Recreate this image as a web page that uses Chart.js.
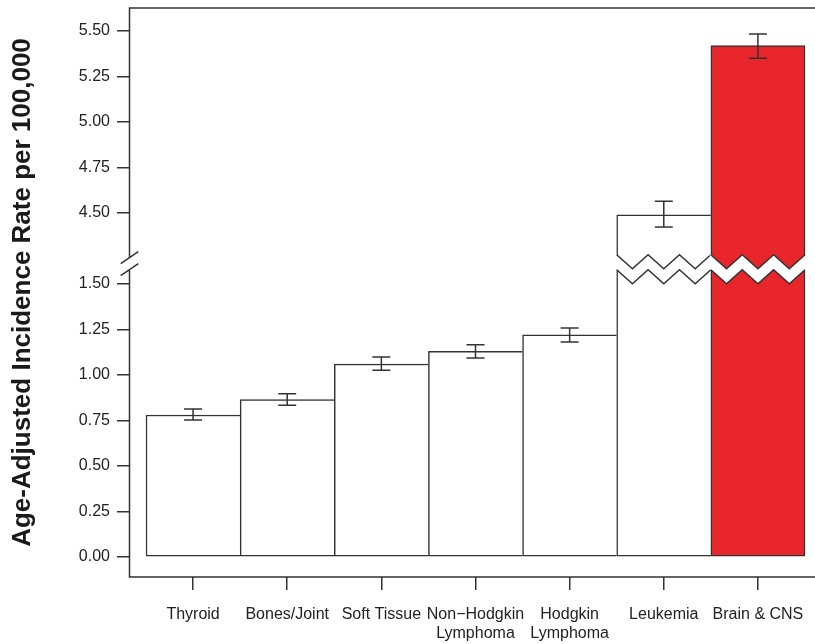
<!DOCTYPE html>
<html><head><meta charset="utf-8">
<script src="https://cdn.jsdelivr.net/npm/chart.js@4.4.1/dist/chart.umd.min.js"></script>
<style>
html,body{margin:0;padding:0;overflow:hidden;background:#fff;width:815px;height:644px}
canvas{position:absolute;left:0;top:0}
</style></head>
<body><canvas id="c" width="830" height="644"></canvas>
<script>
// ---- data ----
const categories = ['Thyroid','Bones/Joint','Soft Tissue','Non−Hodgkin Lymphoma','Hodgkin Lymphoma','Leukemia','Brain & CNS'];
const xTickLabels = [['Thyroid'],['Bones/Joint'],['Soft Tissue'],['Non−Hodgkin','Lymphoma'],['Hodgkin','Lymphoma'],['Leukemia'],['Brain & CNS']];
const rates  = [0.78, 0.865, 1.06, 1.13, 1.22, 4.49, 5.42];
const ciLow  = [0.752, 0.833, 1.026, 1.093, 1.181, 4.423, 5.350];
const ciHigh = [0.813, 0.897, 1.099, 1.166, 1.258, 4.564, 5.483];
const yTickValues = [0, 0.25, 0.5, 0.75, 1.0, 1.25, 1.5, 4.5, 4.75, 5.0, 5.25, 5.5];
const highlighted = 'Brain & CNS';
const yTitle = 'Age-Adjusted Incidence Rate per 100,000';

// ---- axis break settings ----
const BREAK_LOW = 1.6;     // last value shown below the break
const BREAK_SHIFT = 2.61;  // values above the break are shifted down by this much

const FONT = "'Liberation Sans', Arial, sans-serif";
const INK = '#333';
const RED = '#E8252A';

function fold(v){
  if (v <= BREAK_LOW) return v;
  if (v >= BREAK_LOW + BREAK_SHIFT) return v - BREAK_SHIFT;
  return BREAK_LOW;
}

class BrokenLinearScale extends Chart.LinearScale {
  determineDataLimits(){
    this.min = fold(this.options.min);
    this.max = fold(this.options.max);
  }
  buildTicks(){
    return yTickValues.map(v => ({value: v}));
  }
  getPixelForValue(v){
    if (v === null || v === undefined) return NaN;
    return super.getPixelForValue(fold(v));
  }
  getValueForPixel(p){
    const v = super.getValueForPixel(p);
    return v > BREAK_LOW ? v + BREAK_SHIFT : v;
  }
}
BrokenLinearScale.id = 'brokenLinear';
BrokenLinearScale.defaults = {};
Chart.register(BrokenLinearScale);

const decorations = {
  id: 'decorations',
  afterDatasetsDraw(chart){
    const ctx = chart.ctx;
    const ca = chart.chartArea;
    const ys = chart.scales.y;
    const meta = chart.getDatasetMeta(0);
    const yb = ys.getPixelForValue(BREAK_LOW);
    ctx.save();
    // zigzag break across bars that exceed the break
    const broken = [];
    meta.data.forEach((bar, i) => { if (rates[i] >= BREAK_LOW + BREAK_SHIFT) broken.push(bar); });
    const zig = (x0, x1, yPeak, amp) => {
      const pts = [];
      const n = 6;
      for (let k = 0; k <= n; k++) pts.push([x0 + (x1 - x0) * k / n, k % 2 ? yPeak + amp : yPeak]);
      return pts;
    };
    broken.forEach(bar => {
      const x0 = bar.x - bar.width / 2, x1 = bar.x + bar.width / 2;
      const up = zig(x0, x1, yb - 11, 14);
      const lo = zig(x0, x1, yb + 4, 14);
      ctx.beginPath();
      ctx.moveTo(up[0][0] - 1, up[0][1]);
      up.forEach(p => ctx.lineTo(p[0], p[1]));
      ctx.lineTo(x1 + 1, up[up.length-1][1]);
      ctx.lineTo(x1 + 1, lo[lo.length-1][1]);
      for (let k = lo.length - 1; k >= 0; k--) ctx.lineTo(lo[k][0], lo[k][1]);
      ctx.lineTo(x0 - 1, lo[0][1]);
      ctx.closePath();
      ctx.fillStyle = '#fff';
      ctx.fill();
      ctx.strokeStyle = INK; ctx.lineWidth = 1.5; ctx.lineJoin = 'miter';
      [up, lo].forEach(pts => {
        ctx.beginPath();
        pts.forEach((p, k) => k ? ctx.lineTo(p[0], p[1]) : ctx.moveTo(p[0], p[1]));
        ctx.stroke();
      });
    });
    // error bars
    ctx.strokeStyle = INK; ctx.lineWidth = 1.5;
    meta.data.forEach((bar, i) => {
      const yl = ys.getPixelForValue(ciLow[i]), yh = ys.getPixelForValue(ciHigh[i]);
      ctx.beginPath();
      ctx.moveTo(bar.x, yl); ctx.lineTo(bar.x, yh);
      ctx.moveTo(bar.x - 9, yl); ctx.lineTo(bar.x + 9, yl);
      ctx.moveTo(bar.x - 9, yh); ctx.lineTo(bar.x + 9, yh);
      ctx.stroke();
    });
    // frame with broken left edge
    const L = ca.left + 0.5;
    ctx.beginPath();
    ctx.moveTo(L, yb - 8); ctx.lineTo(L, ca.top);
    ctx.lineTo(ca.right, ca.top); ctx.lineTo(ca.right, ca.bottom);
    ctx.lineTo(L, ca.bottom); ctx.lineTo(L, yb + 4);
    // slashes
    ctx.moveTo(L - 8.8, yb - 8 + 6); ctx.lineTo(L + 8.8, yb - 8 - 6);
    ctx.moveTo(L - 8.8, yb + 4 + 6); ctx.lineTo(L + 8.8, yb + 4 - 6);
    ctx.stroke();
    ctx.restore();
  }
};

const n = categories.length;
new Chart(document.getElementById('c'), {
  type: 'bar',
  data: {
    datasets: [{
      data: rates.map((v, i) => ({x: i, y: v})),
      backgroundColor: categories.map(c => c === highlighted ? RED : '#fff'),
      borderColor: INK,
      borderWidth: ctx => ({top: 1.5, bottom: 1.5, left: 1.5, right: ctx.dataIndex === n - 1 ? 1.5 : 0}),
      borderSkipped: false,
      categoryPercentage: 1,
      barPercentage: 1
    }]
  },
  options: {
    responsive: false,
    animation: false,
    layout: {padding: {top: 8, right: 8, left: 0, bottom: 0}},
    plugins: {legend: {display: false}, tooltip: {enabled: false}},
    scales: {
      x: {
        type: 'linear',
        offset: false,
        min: -0.6806, max: 6.6806,
        afterBuildTicks: s => { s.ticks = categories.map((_, i) => ({value: i})); },
        afterFit: s => { s.height = 67; s.paddingLeft = 0; s.paddingRight = 0; },
        grid: {offset: false, drawOnChartArea: false, drawTicks: true, tickLength: 13, color: INK, lineWidth: 1.5},
        border: {display: false},
        ticks: {
          autoSkip: false, maxRotation: 0, padding: 15,
          color: '#222', font: {family: FONT, size: 16},
          callback: (v, i) => xTickLabels[i]
        }
      },
      y: {
        type: 'brokenLinear',
        min: -0.110, max: 5.626,
        afterFit: s => { s.width = 129; s.paddingTop = 0; s.paddingBottom = 0; },
        grid: {drawOnChartArea: false, drawTicks: true, tickLength: 12, color: INK, lineWidth: 1.5},
        border: {display: false},
        ticks: {
          autoSkip: false, padding: 7,
          color: '#222', font: {family: FONT, size: 16},
          callback: v => Number(v).toFixed(2)
        },
        title: {
          display: true, text: yTitle, color: '#1a1a1a',
          font: {family: FONT, size: 26, weight: 'bold'},
          padding: {top: 7.5, bottom: 0}
        }
      }
    }
  },
  plugins: [decorations]
});
</script>
</body></html>
